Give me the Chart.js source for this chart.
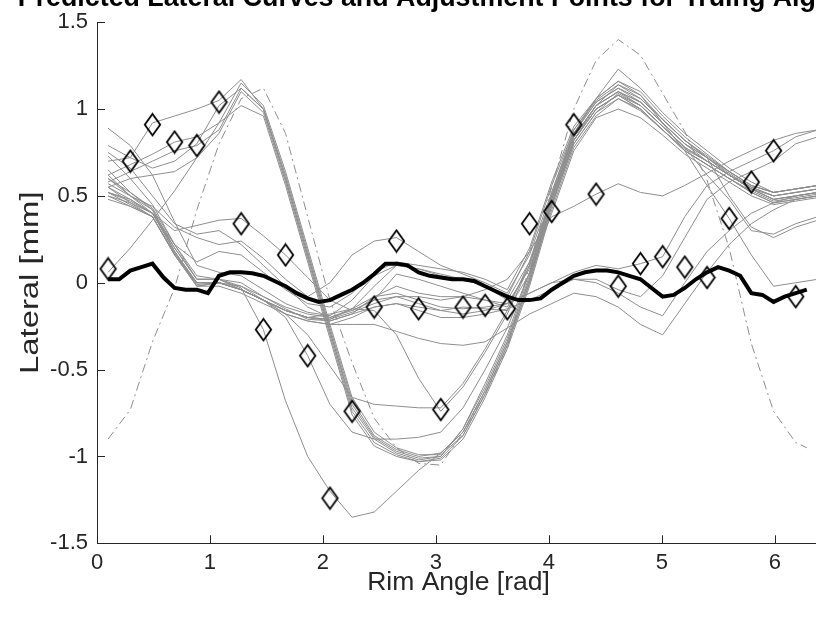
<!DOCTYPE html>
<html>
<head>
<meta charset="utf-8">
<script src="https://cdn.jsdelivr.net/npm/chart.js@4.4.1/dist/chart.umd.min.js"></script>
<style>
  html, body { margin: 0; padding: 0; background: #ffffff; overflow: hidden; }
  #wrap { width: 830px; height: 619px; }
</style>
</head>
<body>
<div id="wrap"><canvas id="chart" width="830" height="619"></canvas></div>
<script>
// Rim angles (rad) at which the predicted curves are sampled
const angleCoarse = [0.098, 0.295, 0.491, 0.687, 0.884, 1.080, 1.276, 1.473, 1.669, 1.865, 2.062,
  2.258, 2.454, 2.651, 2.847, 3.043, 3.240, 3.436, 3.632, 3.829, 4.025, 4.221, 4.418, 4.614,
  4.811, 5.007, 5.203, 5.400, 5.596, 5.792, 5.989, 6.185, 6.381];
// Finer angle grid used by the mean lateral curve
const angleFine = [0.098, 0.196, 0.295, 0.393, 0.491, 0.589, 0.687, 0.785, 0.884, 0.982, 1.080,
  1.178, 1.276, 1.374, 1.473, 1.571, 1.669, 1.767, 1.865, 1.963, 2.062, 2.160, 2.258, 2.356,
  2.454, 2.553, 2.651, 2.749, 2.847, 2.945, 3.043, 3.142, 3.240, 3.338, 3.436, 3.534, 3.632,
  3.731, 3.829, 3.927, 4.025, 4.123, 4.221, 4.320, 4.418, 4.516, 4.614, 4.712, 4.811, 4.909,
  5.007, 5.105, 5.203, 5.301, 5.400, 5.498, 5.596, 5.694, 5.792, 5.890, 5.989, 6.087, 6.185, 6.283];
// Angles of the initial (untrued) lateral profile
const angleInitial = [0.098, 0.295, 0.491, 0.687, 0.884, 1.080, 1.276, 1.473, 1.669, 1.865, 2.062,
  2.258, 2.454, 2.651, 2.847, 3.043, 3.240, 3.436, 3.632, 3.829, 4.025, 4.221, 4.418, 4.614,
  4.811, 5.007, 5.203, 5.400, 5.596, 5.792, 5.989, 6.185, 6.283];
// Angles of the spoke adjustment points
const angleSpokes = [0.098, 0.295, 0.491, 0.687, 0.884, 1.080, 1.276, 1.473, 1.669, 1.865, 2.062,
  2.258, 2.454, 2.651, 2.847, 3.043, 3.240, 3.436, 3.632, 3.829, 4.025, 4.221, 4.418, 4.614,
  4.811, 5.007, 5.203, 5.400, 5.596, 5.792, 5.989, 6.185];

const xTicks = [0, 1, 2, 3, 4, 5, 6];
const yTicks = [-1.5, -1, -0.5, 0, 0.5, 1, 1.5];

const titleText = 'Predicted Lateral Curves and Adjustment Points for Truing Algorithm';
const xLabel = 'Rim Angle [rad]';
const yLabel = 'Lateral [mm]';

// Initial lateral profile (dash-dot)
const initialLateral = [-0.90, -0.73, -0.34, -0.03, 0.42, 0.80, 1.06, 1.12, 0.86, 0.38, -0.10,
  -0.46, -0.78, -0.95, -1.04, -1.05, -0.86, -0.64, -0.38, 0.10, 0.55, 1.00, 1.28, 1.40, 1.31,
  1.09, 0.87, 0.59, 0.20, -0.35, -0.74, -0.92, -0.95];

// Mean of the predicted curves (thick black)
const meanLateral = [0.02, 0.02, 0.07, 0.09, 0.11, 0.03, -0.03, -0.04, -0.04, -0.06,
  0.04, 0.06, 0.06, 0.055, 0.04, 0.01, -0.02, -0.06, -0.09, -0.11,
  -0.10, -0.07, -0.04, 0.00, 0.05, 0.11, 0.11, 0.10, 0.06, 0.04,
  0.03, 0.02, 0.02, 0.01, -0.02, -0.05, -0.08, -0.10, -0.10, -0.09,
  -0.04, 0.00, 0.04, 0.06, 0.07, 0.07, 0.06, 0.04, 0.02, -0.03,
  -0.08, -0.07, -0.03, 0.02, 0.06, 0.09, 0.07, 0.04, -0.06, -0.07,
  -0.11, -0.08, -0.06, -0.04];

// Lateral value at each adjustment point (diamonds)
const adjustLateral = [0.08, 0.70, 0.91, 0.81, 0.79, 1.04, 0.34, -0.27, 0.16, -0.42, -1.24,
  -0.74, -0.14, 0.24, -0.15, -0.73, -0.14, -0.13, -0.15, 0.34, 0.41, 0.91, 0.51, -0.02, 0.11,
  0.15, 0.09, 0.03, 0.37, 0.58, 0.76, -0.08];

// Predicted lateral curves, one per candidate adjustment
const curve01 = [0.70, 0.72, 0.92, 0.96, 1.00, 1.05, 1.17, 1.00, 0.62, 0.18, -0.26, -0.68, -0.88, -0.96, -1.00, -0.98, -0.86, -0.62, -0.34, 0.02, 0.48, 0.86, 1.06, 1.23, 1.12, 0.98, 0.86, 0.76, 0.66, 0.58, 0.52, 0.54, 0.56];
const curve02 = [0.62, 0.68, 0.74, 0.81, 0.84, 0.92, 1.15, 1.02, 0.64, 0.20, -0.24, -0.66, -0.86, -0.95, -0.99, -0.99, -0.88, -0.64, -0.36, 0.00, 0.45, 0.82, 1.02, 1.14, 1.06, 0.94, 0.82, 0.72, 0.50, 0.32, 0.26, 0.32, 0.36];
const curve03 = [0.58, 0.64, 0.70, 0.76, 0.79, 0.88, 1.12, 1.00, 0.60, 0.16, -0.28, -0.72, -0.90, -0.98, -1.02, -1.00, -0.84, -0.60, -0.32, 0.04, 0.50, 0.86, 1.04, 1.12, 1.04, 0.92, 0.80, 0.70, 0.62, 0.54, 0.48, 0.50, 0.52];
const curve04 = [0.55, 0.60, 0.62, 0.64, 0.72, 0.86, 1.10, 0.98, 0.58, 0.14, -0.30, -0.74, -0.92, -0.99, -1.03, -1.01, -0.88, -0.64, -0.36, 0.00, 0.44, 0.80, 0.98, 1.09, 1.02, 0.90, 0.78, 0.62, 0.48, 0.30, 0.28, 0.34, 0.38];
const curve05 = [0.06, 0.20, 0.36, 0.53, 0.72, 0.92, 1.02, 0.96, 0.56, 0.12, -0.32, -0.76, -0.94, -1.00, -1.03, -1.02, -0.90, -0.66, -0.38, -0.02, 0.42, 0.78, 0.96, 1.06, 0.99, 0.88, 0.76, 0.68, 0.60, 0.53, 0.47, 0.49, 0.51];
const curve06 = [0.79, 0.72, 0.66, 0.70, 0.80, 1.02, 1.12, 1.00, 0.60, 0.16, -0.28, -0.70, -0.89, -0.97, -1.01, -1.00, -0.84, -0.58, -0.30, 0.06, 0.52, 0.88, 1.06, 1.16, 1.08, 0.92, 0.76, 0.56, 0.37, 0.16, -0.02, 0.00, 0.02];
const curve07 = [0.55, 0.48, 0.40, 0.20, 0.02, 0.02, -0.03, -0.27, -0.68, -1.00, -1.20, -1.35, -1.32, -1.20, -1.08, -0.98, -0.86, -0.62, -0.34, 0.02, 0.46, 0.82, 1.00, 1.08, 1.02, 0.90, 0.78, 0.70, 0.62, 0.55, 0.50, 0.52, 0.54];
const curve08 = [0.60, 0.52, 0.43, 0.22, 0.04, 0.02, -0.04, -0.10, -0.20, -0.42, -0.70, -0.86, -0.90, -0.90, -0.89, -0.86, -0.72, -0.50, -0.26, 0.06, 0.46, 0.82, 1.00, 1.08, 1.00, 0.88, 0.76, 0.68, 0.60, 0.52, 0.46, 0.48, 0.50];
const curve09 = [0.52, 0.47, 0.40, 0.18, 0.00, 0.00, -0.04, -0.10, -0.18, -0.30, -0.48, -0.66, -0.70, -0.71, -0.72, -0.72, -0.58, -0.38, -0.16, 0.12, 0.50, 0.84, 1.02, 1.10, 1.02, 0.90, 0.78, 0.70, 0.62, 0.54, 0.48, 0.50, 0.52];
const curve10 = [0.50, 0.46, 0.38, 0.16, -0.02, 0.00, -0.04, -0.10, -0.16, -0.20, -0.18, -0.15, -0.16, -0.30, -0.55, -0.74, -0.60, -0.40, -0.18, 0.10, 0.48, 0.82, 1.00, 1.08, 1.00, 0.88, 0.76, 0.68, 0.60, 0.52, 0.46, 0.48, 0.50];
const curve11 = [0.89, 0.79, 0.62, 0.35, 0.10, 0.06, 0.04, -0.04, -0.12, -0.17, -0.19, -0.10, 0.04, 0.10, 0.08, 0.05, 0.02, -0.02, -0.08, 0.18, 0.56, 0.88, 1.05, 1.14, 1.08, 0.94, 0.82, 0.72, 0.62, 0.54, 0.50, 0.52, 0.54];
const curve12 = [0.62, 0.50, 0.40, 0.30, 0.33, 0.36, 0.37, 0.27, 0.16, 0.03, -0.10, -0.16, -0.10, 0.05, 0.02, -0.02, -0.06, -0.10, -0.14, 0.10, 0.48, 0.84, 1.02, 1.10, 1.04, 0.92, 0.80, 0.72, 0.64, 0.56, 0.52, 0.54, 0.56];
const curve13 = [0.57, 0.50, 0.44, 0.32, 0.26, 0.22, 0.24, 0.14, 0.02, -0.08, 0.00, 0.16, 0.24, 0.26, 0.18, 0.10, 0.05, 0.00, -0.06, 0.16, 0.52, 0.86, 1.04, 1.12, 1.06, 0.94, 0.82, 0.73, 0.64, 0.56, 0.52, 0.54, 0.56];
const curve14 = [0.75, 0.66, 0.50, 0.34, 0.28, 0.30, 0.22, 0.10, -0.02, -0.14, -0.20, -0.15, -0.02, 0.10, 0.08, 0.04, 0.02, -0.02, -0.10, 0.12, 0.50, 0.84, 1.02, 1.10, 1.04, 0.92, 0.80, 0.72, 0.63, 0.55, 0.50, 0.52, 0.54];
const curve15 = [0.73, 0.60, 0.45, 0.22, 0.02, 0.02, 0.00, -0.08, -0.15, -0.21, -0.22, -0.18, -0.08, -0.02, -0.06, -0.08, -0.08, -0.10, -0.12, 0.08, 0.45, 0.80, 0.98, 1.06, 1.00, 0.88, 0.77, 0.70, 0.62, 0.54, 0.48, 0.50, 0.52];
const curve16 = [0.65, 0.52, 0.42, 0.18, -0.02, 0.00, -0.02, -0.10, -0.18, -0.22, -0.24, -0.20, -0.14, -0.12, -0.14, -0.16, -0.14, -0.15, -0.16, 0.05, 0.40, 0.76, 0.95, 1.00, 0.95, 0.85, 0.74, 0.66, 0.58, 0.50, 0.45, 0.47, 0.49];
const curve17 = [0.52, 0.48, 0.40, 0.22, 0.12, 0.18, 0.16, 0.06, -0.04, -0.12, -0.14, -0.06, 0.06, 0.12, 0.10, 0.08, 0.06, 0.02, -0.04, 0.20, 0.58, 0.90, 1.06, 1.16, 1.10, 0.96, 0.84, 0.74, 0.64, 0.56, 0.52, 0.54, 0.56];
const curve18 = [0.60, 0.50, 0.42, 0.20, 0.02, 0.02, -0.02, -0.08, -0.14, -0.18, -0.20, -0.16, -0.10, -0.08, -0.12, -0.16, -0.18, -0.16, -0.12, -0.06, 0.00, 0.06, 0.10, 0.08, 0.11, 0.15, 0.38, 0.56, 0.64, 0.70, 0.76, 0.84, 0.88];
const curve19 = [0.55, 0.46, 0.40, 0.18, 0.00, 0.00, -0.04, -0.10, -0.16, -0.20, -0.22, -0.18, -0.14, -0.12, -0.16, -0.20, -0.20, -0.18, -0.15, -0.10, -0.04, 0.02, 0.02, -0.04, -0.08, 0.04, 0.26, 0.48, 0.58, 0.64, 0.70, 0.80, 0.84];
const curve20 = [0.50, 0.44, 0.38, 0.16, -0.02, -0.02, -0.06, -0.12, -0.18, -0.22, -0.24, -0.24, -0.24, -0.28, -0.32, -0.35, -0.36, -0.34, -0.26, -0.18, -0.12, -0.06, -0.08, -0.14, -0.24, -0.30, -0.12, 0.06, 0.22, 0.34, 0.42, 0.48, 0.50];
const curve21 = [0.52, 0.45, 0.38, 0.17, -0.01, 0.00, -0.04, -0.10, -0.16, -0.20, -0.21, -0.15, -0.08, -0.06, -0.10, -0.14, -0.15, -0.14, -0.12, -0.06, 0.00, 0.02, 0.00, -0.06, -0.14, -0.19, 0.00, 0.18, 0.30, 0.40, 0.46, 0.50, 0.52];
const curve22 = [0.48, 0.44, 0.38, 0.16, 0.00, 0.00, -0.04, -0.10, -0.16, -0.20, -0.21, -0.17, -0.12, -0.08, -0.08, -0.10, -0.08, -0.04, 0.02, 0.18, 0.38, 0.44, 0.51, 0.57, 0.52, 0.50, 0.56, 0.63, 0.70, 0.76, 0.82, 0.86, 0.88];

const predictedCurves = [curve01, curve02, curve03, curve04, curve05, curve06, curve07, curve08,
  curve09, curve10, curve11, curve12, curve13, curve14, curve15, curve16, curve17, curve18,
  curve19, curve20, curve21, curve22];

const axisColor = '#262626';
const curveGray = 'rgb(142,142,142)';
const fontFamily = '"Liberation Sans", Arial, Helvetica, sans-serif';

const pairs = (xs, ys) => ys.map((v, i) => ({ x: xs[i], y: v }));

// Hollow diamond marker (MATLAB 'd')
function diamondMarker(w, h, lw) {
  const c = document.createElement('canvas');
  c.width = w; c.height = h;
  const g = c.getContext('2d');
  g.strokeStyle = '#000000';
  g.lineWidth = lw;
  g.lineJoin = 'miter';
  g.beginPath();
  g.moveTo(w / 2, lw);
  g.lineTo(w - lw, h / 2);
  g.lineTo(w / 2, h - lw);
  g.lineTo(lw, h / 2);
  g.closePath();
  g.stroke();
  return c;
}
const diamond = diamondMarker(19, 25, 1.8);

const datasets = [];
datasets.push({
  label: 'Adjustment points',
  data: pairs(angleSpokes, adjustLateral),
  showLine: false,
  pointStyle: diamond,
  pointRadius: 9,
  order: 0
});
datasets.push({
  label: 'Mean',
  data: pairs(angleFine, meanLateral),
  borderColor: '#000000',
  borderWidth: 4,
  pointRadius: 0,
  order: 1
});
datasets.push({
  label: 'Initial',
  data: pairs(angleInitial, initialLateral),
  borderColor: curveGray,
  borderWidth: 1,
  borderDash: [9, 4, 2, 4],
  pointRadius: 0,
  order: 2
});
predictedCurves.forEach((c, i) => {
  datasets.push({
    label: 'Curve ' + (i + 1),
    data: pairs(angleCoarse, c),
    borderColor: curveGray,
    borderWidth: 1,
    pointRadius: 0,
    order: 3
  });
});

// Inward tick marks, y-axis label and the figure title
const axisDecor = {
  id: 'axisDecor',
  afterDraw(chart) {
    const { ctx, chartArea: a, scales: { x, y } } = chart;
    ctx.save();
    ctx.strokeStyle = axisColor;
    ctx.lineWidth = 1;
    ctx.beginPath();
    xTicks.forEach(v => {
      const px = Math.round(x.getPixelForValue(v)) + 0.5;
      ctx.moveTo(px, a.bottom);
      ctx.lineTo(px, a.bottom - 8);
    });
    yTicks.forEach(v => {
      const py = Math.round(y.getPixelForValue(v)) + 0.5;
      ctx.moveTo(a.left, py);
      ctx.lineTo(a.left + 8, py);
    });
    ctx.stroke();

    // y-axis label, set upright along the axis
    ctx.save();
    ctx.translate(31, (a.top + a.bottom) / 2);
    ctx.rotate(-Math.PI / 2);
    ctx.scale(1.24, 1);
    ctx.fillStyle = axisColor;
    ctx.font = '26.5px ' + fontFamily;
    ctx.textAlign = 'center';
    ctx.textBaseline = 'middle';
    ctx.fillText(yLabel, 0, 0);
    ctx.restore();

    ctx.fillStyle = '#000000';
    ctx.font = 'bold 26.8px ' + fontFamily;
    ctx.textAlign = 'center';
    ctx.textBaseline = 'alphabetic';
    ctx.fillText(titleText, (a.left + a.right) / 2, 6);
    ctx.restore();
  }
};

new Chart(document.getElementById('chart'), {
  type: 'line',
  data: { datasets },
  plugins: [axisDecor],
  options: {
    responsive: false,
    animation: false,
    events: [],
    layout: { padding: { left: 0, top: 15.3, right: 3.4, bottom: 0 } },
    plugins: { legend: { display: false }, tooltip: { enabled: false }, title: { display: false } },
    elements: { line: { tension: 0, borderJoinStyle: 'miter' } },
    scales: {
      x: {
        type: 'linear',
        min: 0,
        max: 6.4,
        afterFit(scale) { scale.height = 75.7; },
        afterBuildTicks(scale) { scale.ticks = xTicks.map(v => ({ value: v })); },
        grid: { display: true, drawOnChartArea: false, drawTicks: false },
        border: { display: true, color: axisColor, width: 1 },
        ticks: {
          color: axisColor,
          padding: 6,
          maxRotation: 0,
          font: { family: fontFamily, size: 22 },
          callback: v => String(v)
        },
        title: {
          display: true,
          text: xLabel,
          color: axisColor,
          font: { family: fontFamily, size: 26.5 },
          padding: { top: 0, bottom: 20 }
        }
      },
      y: {
        type: 'linear',
        min: -1.5,
        max: 1.5,
        afterFit(scale) { scale.width = 97; },
        afterBuildTicks(scale) { scale.ticks = yTicks.map(v => ({ value: v })); },
        grid: { display: true, drawOnChartArea: false, drawTicks: false },
        border: { display: true, color: axisColor, width: 1 },
        ticks: {
          color: axisColor,
          padding: 9,
          font: { family: fontFamily, size: 22 },
          callback: v => String(v)
        },
        title: { display: false }
      }
    }
  }
});
</script>
</body>
</html>
